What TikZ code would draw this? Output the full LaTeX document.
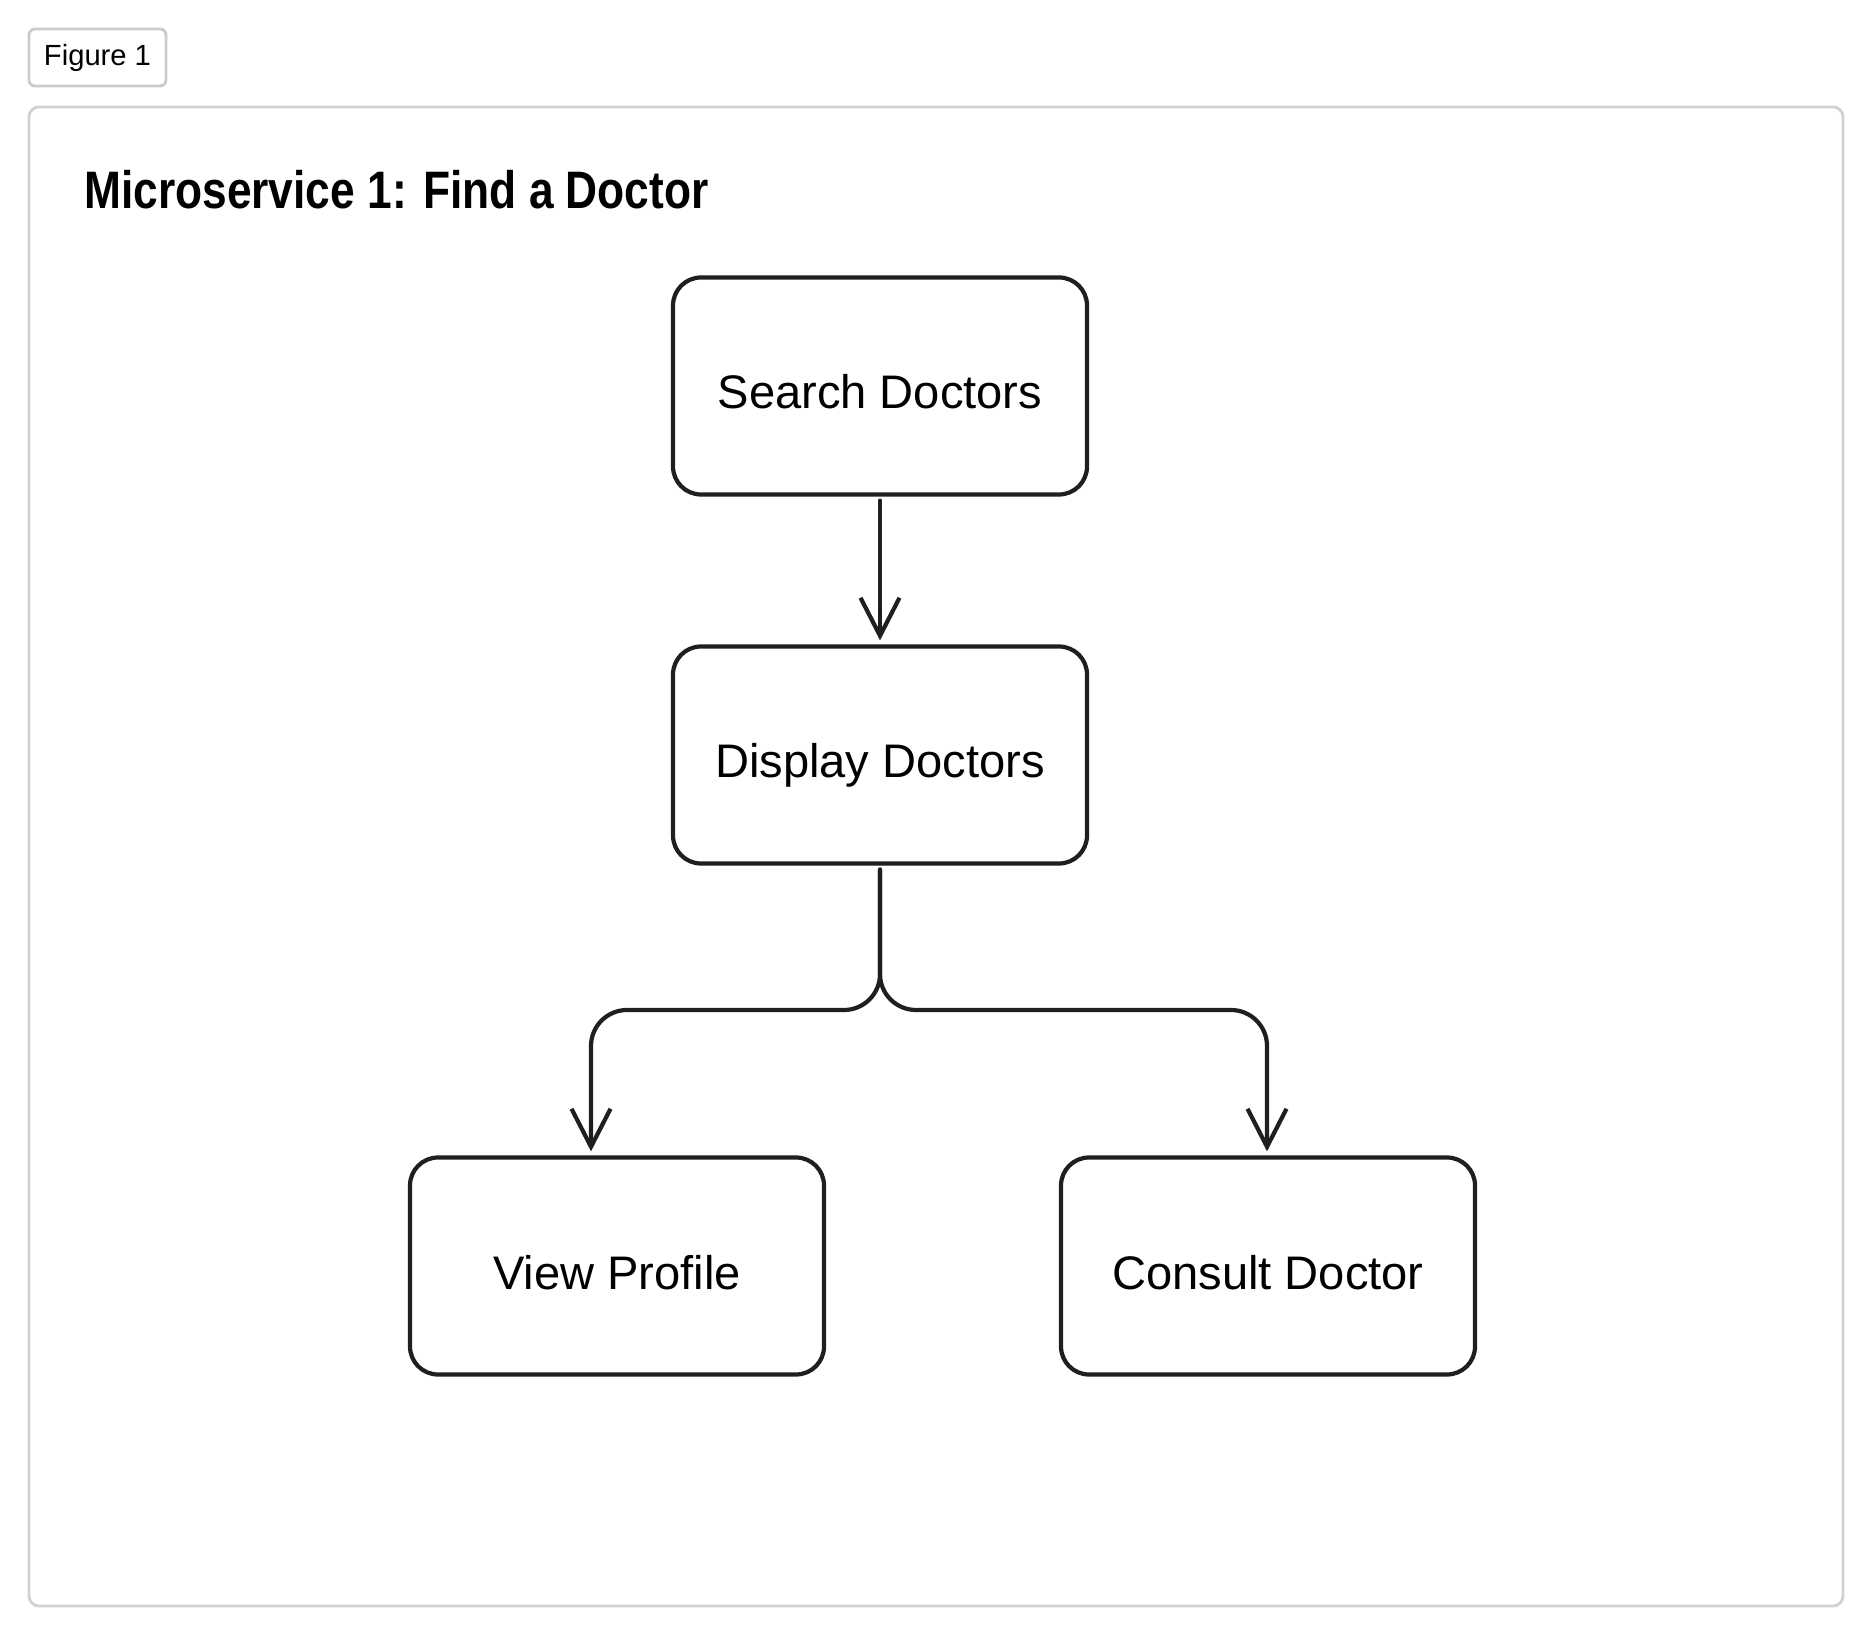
\documentclass[tikz,border=0pt]{standalone}
\usepackage{fontspec}
\setmainfont{Liberation Sans}
\newfontfamily\titlefont[FakeStretch=0.84]{Liberation Sans}
\usetikzlibrary{arrows.meta}

\begin{document}
\begin{tikzpicture}[
        box/.style={draw=black!88,line width=1.2pt,rounded corners=0.28cm,
            minimum width=4.14cm,minimum height=2.17cm,
            text height=0.46cm,text depth=0cm,
            font=\fontsize{13.4}{16}\selectfont},
        flow/.style={draw=black!88,line width=1.2pt,line cap=round,
            -{Straight Barb[length=3.8mm,width=3.9mm,line width=1.2pt]}}]
    \useasboundingbox (0,0) rectangle (18.71,-16.35);
    \node[draw=black!20,line width=0.8pt,rounded corners=0.06cm,
          minimum width=1.37cm,minimum height=0.57cm,
          font=\fontsize{8.3}{10}\selectfont] (tab) at (0.975,-0.575) {Figure 1};
    \draw[black!18,line width=0.8pt,rounded corners=0.1cm] (0.29,-1.07) rectangle (18.43,-16.06);
    \node[anchor=base west,font=\titlefont\bfseries\fontsize{15}{18}\selectfont]
        (title) at (0.72,-2.09) {Microservice 1: Find a Doctor};
    \node[box] (search) at (8.80,-3.86) {Search Doctors};
    \node[box] (display) at (8.80,-7.55) {Display Doctors};
    \node[box] (view) at (6.17,-12.66) {View Profile};
    \node[box] (consult) at (12.68,-12.66) {Consult Doctor};
    \coordinate (split) at (8.80,-10.10);
    \draw[flow] ([yshift=-0.04cm]search.south) -- ([yshift=0.04cm]display.north);
    \draw[flow,rounded corners=0.36cm] ([yshift=-0.04cm]display.south) -- (split)
        -| ([xshift=-0.26cm,yshift=0.04cm]view.north);
    \draw[flow,rounded corners=0.36cm] ([yshift=-0.04cm]display.south) -- (split)
        -| ([xshift=-0.01cm,yshift=0.04cm]consult.north);
\end{tikzpicture}
\end{document}
